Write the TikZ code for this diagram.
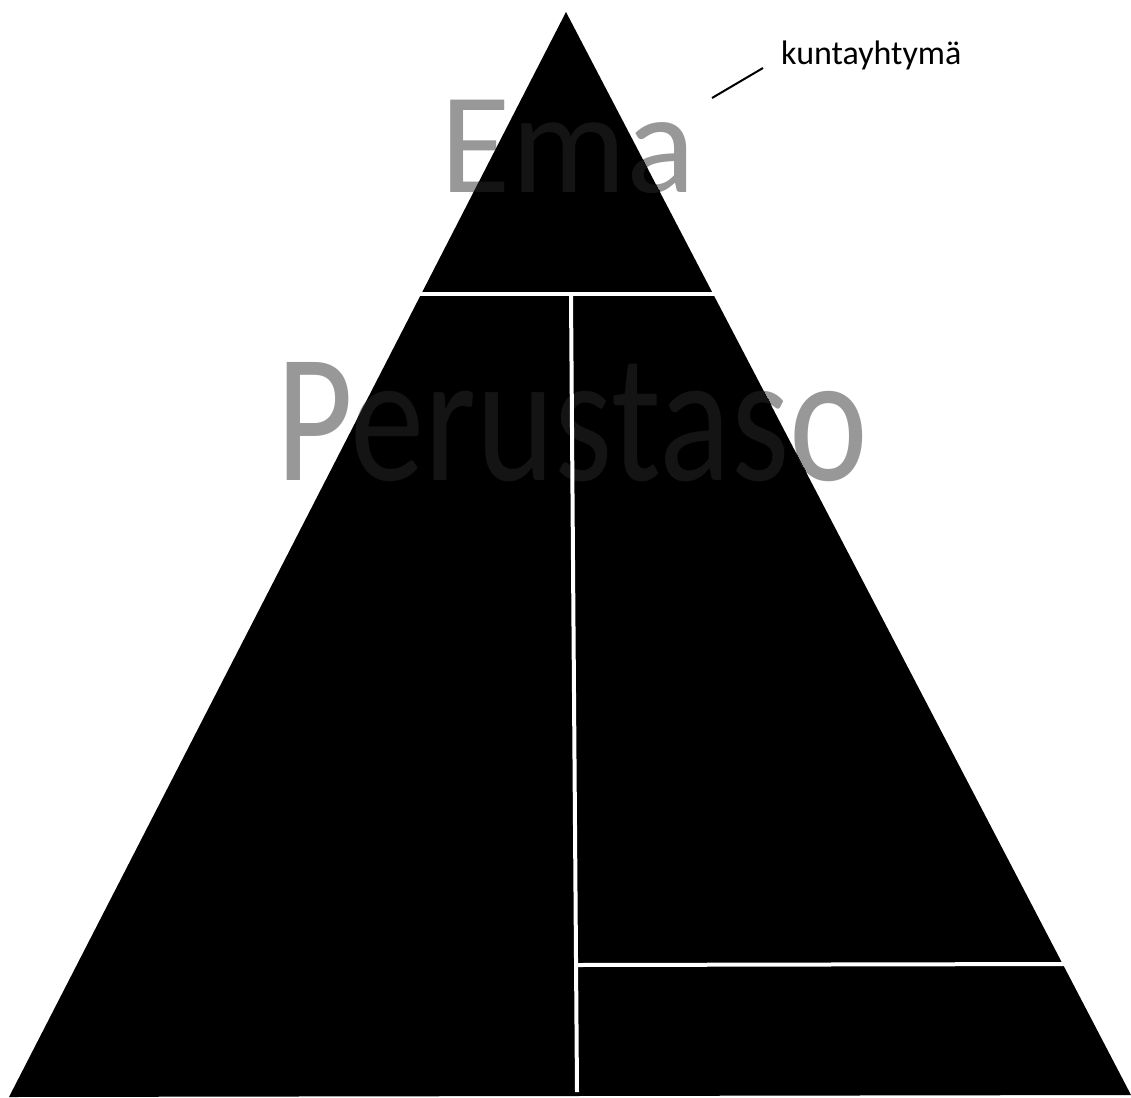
\documentclass[tikz,border=0pt]{standalone}
\usepackage{fontspec}
\setmainfont{Carlito}
\definecolor{textgray}{RGB}{152,152,152}
\definecolor{ghost}{RGB}{20,20,20}
\tikzset{
  pyramid/.style={fill=black, draw=none},
  gap/.style={draw=white, line width=4pt},
  bigword/.style={inner sep=0pt, anchor=base, text=textgray},
  ghostword/.style={inner sep=0pt, anchor=base, text=ghost},
  leader/.style={draw=black, line width=2pt},
  smalllabel/.style={inner sep=0pt, anchor=base west, text=black}
}
\newcommand{\perusword}{\scalebox{0.81}[1]{Perustaso}}
\begin{document}
\begin{tikzpicture}[x=1pt,y=1pt]
\useasboundingbox (0,0) rectangle (1131,-1097);
% words behind the pyramid
\node[bigword, font=\fontsize{144}{150}\selectfont] (ema) at (568,-192) {Ema};
\node[bigword, font=\fontsize{184}{190}\selectfont] (perus) at (572,-480) {\perusword};
% pyramid
\coordinate (apex) at (566,-12);
\coordinate (bl) at (9,-1097);
\coordinate (br) at (1131,-1095);
\fill[pyramid] (apex) -- (bl) -- (br) -- cycle;
% faint letters inside the pyramid
\begin{scope}
\clip (apex) -- (bl) -- (br) -- cycle;
\node[ghostword, font=\fontsize{144}{150}\selectfont] (emaG) at (568,-192) {Ema};
\node[ghostword, font=\fontsize{184}{190}\selectfont] (perusG) at (572,-480) {\perusword};
\end{scope}
% white dividing gaps
\coordinate (h1l) at (418,-294);
\coordinate (h1r) at (720,-294);
\coordinate (vt) at (571,-296);
\coordinate (vb) at (577,-1092);
\coordinate (h2l) at (576,-965);
\coordinate (h2r) at (1072,-964);
\draw[gap] (h1l) -- (h1r);
\draw[gap] (vt) -- (vb);
\draw[gap] (h2l) -- (h2r);
% label with leader line
\node[smalllabel, font=\fontsize{34}{37}\selectfont] (kt) at (781,-65) {kuntayhtymä};
\coordinate (leadA) at (712,-98);
\coordinate (leadB) at (763,-68);
\draw[leader] (leadA) -- (leadB);
\end{tikzpicture}
\end{document}
